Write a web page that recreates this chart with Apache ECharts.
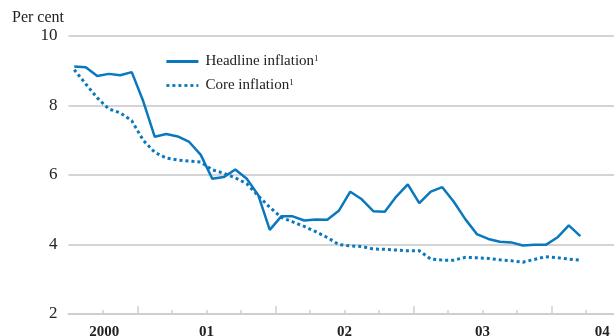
<!DOCTYPE html>
<html>
<head>
<meta charset="utf-8">
<script src="https://cdn.jsdelivr.net/npm/echarts@6/dist/echarts.min.js"></script>
<style>
html,body{margin:0;padding:0;background:#fff;}
#c{width:614px;height:336px;}
</style>
</head>
<body>
<div id="c"></div>
<script>
// Monthly observations, July 2000 – March 2004 (x = months since 1 July 2000, mid-month)
var headline = [9.12, 9.10, 8.85, 8.91, 8.87, 8.96, 8.12, 7.10, 7.18, 7.11, 6.95, 6.58,
  5.89, 5.94, 6.16, 5.89, 5.42, 4.42, 4.81, 4.81, 4.69, 4.72, 4.71, 4.97,
  5.52, 5.30, 4.96, 4.94, 5.38, 5.73, 5.19, 5.52, 5.65, 5.23, 4.73, 4.30,
  4.16, 4.08, 4.06, 3.97, 3.99, 3.99, 4.20, 4.55, 4.24];
var core = [9.03, 8.62, 8.22, 7.90, 7.79, 7.56, 7.00, 6.65, 6.49, 6.43, 6.40, 6.37,
  6.15, 6.05, 5.92, 5.75, 5.40, 5.07, 4.78, 4.65, 4.52, 4.37, 4.20, 4.00,
  3.96, 3.94, 3.87, 3.86, 3.84, 3.82, 3.82, 3.58, 3.55, 3.55, 3.63, 3.62,
  3.60, 3.56, 3.53, 3.49, 3.57, 3.65, 3.62, 3.58, 3.55];
var seriesNames = ['Headline inflation', 'Core inflation'];
var yearLabels = ['2000', '01', '02', '03', '04'];
var yearLabelPos = [3.1, 12, 24, 36, 46.4];
var minorTicks = [3, 9, 12, 15, 21, 24, 27, 33, 36, 39, 45];
var majorTicks = [6, 18, 30, 42];

function toPairs(arr) { return arr.map(function (v, i) { return [i + 0.5, v]; }); }

var serif = '"Liberation Serif", "Times New Roman", serif';
var blue = '#0a78bf';
var chart = echarts.init(document.getElementById('c'));
chart.setOption({
  animation: false,
  title: {
    text: 'Per cent', left: 7, top: 5,
    textStyle: { fontFamily: serif, fontSize: 16, fontWeight: 'normal', color: '#222' }
  },
  legend: {
    orient: 'vertical', left: 160, top: 49, itemWidth: 32, itemHeight: 14, itemGap: 9,
    data: seriesNames,
    itemStyle: { opacity: 0 },
    lineStyle: { width: 2.8, opacity: 1 },
    formatter: function (n) { return '{a|' + n + '}{s|1}'; },
    textStyle: {
      rich: {
        a: { fontFamily: serif, fontSize: 15, color: '#222', padding: [0, 0, 0, 2] },
        s: { fontFamily: serif, fontSize: 9, color: '#222', verticalAlign: 'top', padding: [0, 0, 4, 0] }
      }
    }
  },
  grid: { left: 68.5, right: 0, top: 36, bottom: 22, containLabel: false, outerBoundsMode: 'none' },
  xAxis: [{
    type: 'value', min: 0, max: 47.43,
    axisLine: { show: true, lineStyle: { color: '#cfcfcf', width: 2 } },
    axisTick: { show: true, inside: true, length: 4, customValues: minorTicks, lineStyle: { color: '#cfcfcf', width: 1.5 } },
    axisLabel: {
      show: true, customValues: yearLabelPos, margin: 11,
      formatter: function (v) {
        var k = yearLabelPos.indexOf(v); return k >= 0 ? yearLabels[k] : '';
      },
      fontFamily: serif, fontSize: 15, fontWeight: 'bold', color: '#222'
    },
    splitLine: { show: false }
  }, {
    type: 'value', min: 0, max: 47.43, position: 'bottom',
    axisLine: { show: false },
    axisTick: { show: true, inside: true, length: 8, customValues: majorTicks, lineStyle: { color: '#cfcfcf', width: 1.5 } },
    axisLabel: { show: false },
    splitLine: { show: false }
  }],
  yAxis: {
    type: 'value', min: 2, max: 10, interval: 2,
    axisLine: { show: false }, axisTick: { show: false },
    axisLabel: { fontFamily: serif, fontSize: 17, color: '#222', margin: 11 },
    splitLine: { lineStyle: { color: '#d4d4d4', width: 2 } }
  },
  series: [{
    name: seriesNames[0], type: 'line', data: toPairs(headline), symbol: 'none',
    lineStyle: { color: blue, width: 2.5 }, itemStyle: { color: blue }, z: 3
  }, {
    name: seriesNames[1], type: 'line', data: toPairs(core), symbol: 'none',
    lineStyle: { color: blue, width: 3, type: [3, 3] }, itemStyle: { color: blue }, z: 2
  }]
});
</script>
</body>
</html>
